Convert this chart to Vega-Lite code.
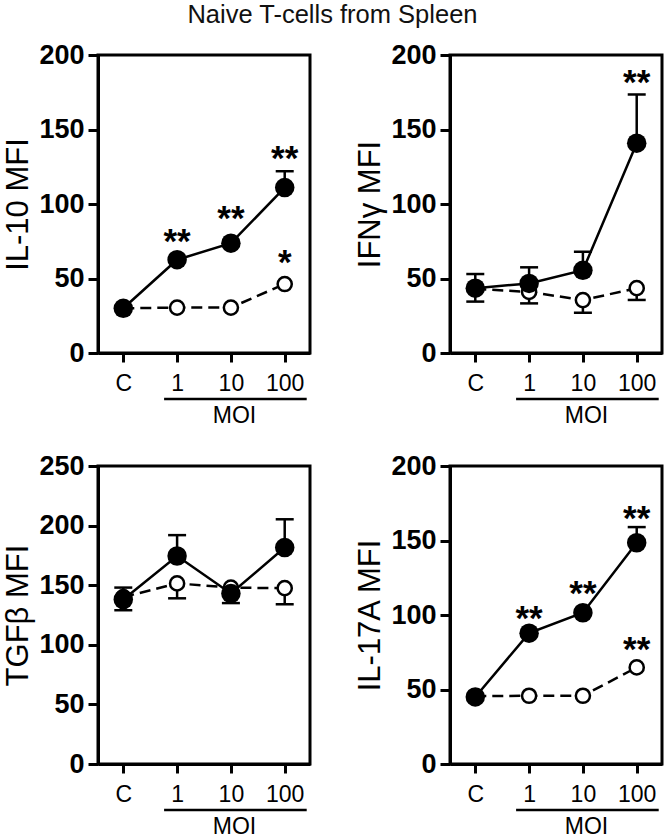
{
  "$schema": "https://vega.github.io/schema/vega-lite/v6.json",
  "padding": {"left": 1, "top": 3, "right": 0, "bottom": 0},
  "title": {"text": "Naive T-cells from Spleen", "fontSize": 25.5, "fontWeight": "normal", "anchor": "middle", "color": "#111", "offset": 11},
  "config": {
    "font": "Liberation Sans",
    "view": {"stroke": "black", "strokeWidth": 3},
    "axis": {"grid": false, "domainColor": "black", "domainWidth": 3, "tickColor": "black", "tickWidth": 3, "labelColor": "black", "titleColor": "black", "titleFontWeight": "normal"},
    "axisY": {"labelFontSize": 27, "labelFontWeight": "bold", "tickSize": 10, "labelPadding": 4, "titleFontSize": 31, "titlePadding": 4},
    "axisX": {"labelFontSize": 23, "labelFontWeight": "normal", "labelAngle": 0, "tickSize": 9, "labelPadding": 10, "titleFontSize": 23, "titlePadding": 9, "titleX": 136}
  },
  "datasets": {
    "pts": [
      {"panel": "IL10", "moi": "C", "grp": "open", "mean": 30},
      {"panel": "IL10", "moi": "1", "grp": "open", "mean": 30.5},
      {"panel": "IL10", "moi": "10", "grp": "open", "mean": 30.5},
      {"panel": "IL10", "moi": "100", "grp": "open", "mean": 46.3},
      {"panel": "IL10", "moi": "C", "grp": "filled", "mean": 30},
      {"panel": "IL10", "moi": "1", "grp": "filled", "mean": 62.6},
      {"panel": "IL10", "moi": "10", "grp": "filled", "mean": 73.7},
      {"panel": "IL10", "moi": "100", "grp": "filled", "mean": 111},
      {"panel": "IFNg", "moi": "C", "grp": "open", "mean": 43},
      {"panel": "IFNg", "moi": "1", "grp": "open", "mean": 41},
      {"panel": "IFNg", "moi": "10", "grp": "open", "mean": 35.5},
      {"panel": "IFNg", "moi": "100", "grp": "open", "mean": 43.5},
      {"panel": "IFNg", "moi": "C", "grp": "filled", "mean": 43.5},
      {"panel": "IFNg", "moi": "1", "grp": "filled", "mean": 46.7},
      {"panel": "IFNg", "moi": "10", "grp": "filled", "mean": 55.5},
      {"panel": "IFNg", "moi": "100", "grp": "filled", "mean": 140.8},
      {"panel": "TGFb", "moi": "C", "grp": "open", "mean": 140},
      {"panel": "TGFb", "moi": "1", "grp": "open", "mean": 151.5},
      {"panel": "TGFb", "moi": "10", "grp": "open", "mean": 148},
      {"panel": "TGFb", "moi": "100", "grp": "open", "mean": 147.5},
      {"panel": "TGFb", "moi": "C", "grp": "filled", "mean": 138},
      {"panel": "TGFb", "moi": "1", "grp": "filled", "mean": 174.5},
      {"panel": "TGFb", "moi": "10", "grp": "filled", "mean": 143},
      {"panel": "TGFb", "moi": "100", "grp": "filled", "mean": 181.6},
      {"panel": "IL17A", "moi": "C", "grp": "open", "mean": 45.5},
      {"panel": "IL17A", "moi": "1", "grp": "open", "mean": 45.8},
      {"panel": "IL17A", "moi": "10", "grp": "open", "mean": 45.8},
      {"panel": "IL17A", "moi": "100", "grp": "open", "mean": 64.8},
      {"panel": "IL17A", "moi": "C", "grp": "filled", "mean": 45},
      {"panel": "IL17A", "moi": "1", "grp": "filled", "mean": 87.8},
      {"panel": "IL17A", "moi": "10", "grp": "filled", "mean": 101.5},
      {"panel": "IL17A", "moi": "100", "grp": "filled", "mean": 148.5}
    ],
    "errs": [
      {"panel": "IL10", "moi": "100", "grp": "filled", "mean": 111, "bar": 122},
      {"panel": "IFNg", "moi": "C", "grp": "filled", "mean": 43.5, "bar": 53},
      {"panel": "IFNg", "moi": "1", "grp": "filled", "mean": 46.7, "bar": 57.5},
      {"panel": "IFNg", "moi": "10", "grp": "filled", "mean": 55.5, "bar": 68},
      {"panel": "IFNg", "moi": "100", "grp": "filled", "mean": 140.8, "bar": 173.5},
      {"panel": "IFNg", "moi": "C", "grp": "open", "mean": 43, "bar": 34.5},
      {"panel": "IFNg", "moi": "1", "grp": "open", "mean": 41, "bar": 33.3},
      {"panel": "IFNg", "moi": "10", "grp": "open", "mean": 35.5, "bar": 27},
      {"panel": "IFNg", "moi": "100", "grp": "open", "mean": 43.5, "bar": 35.6},
      {"panel": "TGFb", "moi": "C", "grp": "filled", "mean": 138, "bar": 148},
      {"panel": "TGFb", "moi": "1", "grp": "filled", "mean": 174.5, "bar": 192},
      {"panel": "TGFb", "moi": "100", "grp": "filled", "mean": 181.6, "bar": 205.3},
      {"panel": "TGFb", "moi": "C", "grp": "open", "mean": 140, "bar": 129},
      {"panel": "TGFb", "moi": "1", "grp": "open", "mean": 151.5, "bar": 139},
      {"panel": "TGFb", "moi": "10", "grp": "open", "mean": 148, "bar": 135},
      {"panel": "TGFb", "moi": "100", "grp": "open", "mean": 147.5, "bar": 134},
      {"panel": "IL17A", "moi": "100", "grp": "filled", "mean": 148.5, "bar": 159}
    ],
    "stars": [
      {"panel": "IL10", "moi": "1", "label": "**", "pos": 79.3},
      {"panel": "IL10", "moi": "10", "label": "**", "pos": 94.3},
      {"panel": "IL10", "moi": "100", "label": "**", "pos": 135.2},
      {"panel": "IL10", "moi": "100", "label": "*", "pos": 64.8},
      {"panel": "IFNg", "moi": "100", "label": "**", "pos": 186},
      {"panel": "IL17A", "moi": "1", "label": "**", "pos": 102},
      {"panel": "IL17A", "moi": "10", "label": "**", "pos": 119},
      {"panel": "IL17A", "moi": "100", "label": "**", "pos": 169},
      {"panel": "IL17A", "moi": "100", "label": "**", "pos": 81}
    ]
  },
  "columns": 2,
  "bounds": "flush",
  "spacing": {"row": 113, "column": 140},
  "concat": [
    {
      "width": 212, "height": 298,
      "layer": [
        {"data": {"name": "pts"}, "transform": [{"filter": "datum.panel === 'IL10' && datum.grp === 'open'"}],
         "mark": {"type": "line", "color": "black", "strokeWidth": 2.5, "strokeDash": [11, 6]},
         "encoding": {
           "x": {"field": "moi", "type": "ordinal", "title": "MOI", "scale": {"type": "point", "domain": ["C", "1", "10", "100"], "padding": 0.47}},
           "y": {"field": "mean", "type": "quantitative", "title": "IL-10 MFI", "scale": {"domain": [0, 200], "nice": false}, "axis": {"values": [0, 50, 100, 150, 200]}}}},
        {"data": {"name": "pts"}, "transform": [{"filter": "datum.panel === 'IL10' && datum.grp === 'filled'"}],
         "mark": {"type": "line", "color": "black", "strokeWidth": 2.5},
         "encoding": {"x": {"field": "moi", "type": "ordinal"}, "y": {"field": "mean", "type": "quantitative"}}},
        {"data": {"name": "errs"}, "transform": [{"filter": "datum.panel === 'IL10'"}],
         "mark": {"type": "rule", "color": "black", "strokeWidth": 2.5},
         "encoding": {"x": {"field": "moi", "type": "ordinal"}, "y": {"field": "mean", "type": "quantitative"}, "y2": {"field": "bar"}}},
        {"data": {"name": "errs"}, "transform": [{"filter": "datum.panel === 'IL10'"}],
         "mark": {"type": "tick", "color": "black", "size": 18, "thickness": 2.5, "opacity": 1, "orient": "horizontal"},
         "encoding": {"x": {"field": "moi", "type": "ordinal"}, "y": {"field": "bar", "type": "quantitative"}}},
        {"data": {"name": "pts"}, "transform": [{"filter": "datum.panel === 'IL10' && datum.grp === 'open'"}],
         "mark": {"type": "point", "shape": "circle", "filled": true, "fill": "white", "stroke": "black", "strokeWidth": 2.5, "size": 200, "opacity": 1},
         "encoding": {"x": {"field": "moi", "type": "ordinal"}, "y": {"field": "mean", "type": "quantitative"}}},
        {"data": {"name": "pts"}, "transform": [{"filter": "datum.panel === 'IL10' && datum.grp === 'filled'"}],
         "mark": {"type": "circle", "color": "black", "size": 380, "opacity": 1},
         "encoding": {"x": {"field": "moi", "type": "ordinal"}, "y": {"field": "mean", "type": "quantitative"}}},
        {"data": {"name": "stars"}, "transform": [{"filter": "datum.panel === 'IL10'"}],
         "mark": {"type": "text", "color": "black", "fontSize": 35, "fontWeight": "bold", "baseline": "alphabetic", "dy": 18},
         "encoding": {"x": {"field": "moi", "type": "ordinal"}, "y": {"field": "pos", "type": "quantitative"}, "text": {"field": "label"}}},
        {"data": {"values": [{}]},
         "mark": {"type": "rule", "color": "black", "strokeWidth": 2.5, "yOffset": 46, "xOffset": -13, "x2Offset": 22},
         "encoding": {"x": {"datum": "1", "type": "ordinal"}, "x2": {"datum": "100"}, "y": {"datum": 0, "type": "quantitative"}}}
      ]
    },
    {
      "width": 212, "height": 298,
      "layer": [
        {"data": {"name": "pts"}, "transform": [{"filter": "datum.panel === 'IFNg' && datum.grp === 'open'"}],
         "mark": {"type": "line", "color": "black", "strokeWidth": 2.5, "strokeDash": [11, 6]},
         "encoding": {
           "x": {"field": "moi", "type": "ordinal", "title": "MOI", "scale": {"type": "point", "domain": ["C", "1", "10", "100"], "padding": 0.47}},
           "y": {"field": "mean", "type": "quantitative", "title": "IFNγ MFI", "scale": {"domain": [0, 200], "nice": false}, "axis": {"values": [0, 50, 100, 150, 200]}}}},
        {"data": {"name": "pts"}, "transform": [{"filter": "datum.panel === 'IFNg' && datum.grp === 'filled'"}],
         "mark": {"type": "line", "color": "black", "strokeWidth": 2.5},
         "encoding": {"x": {"field": "moi", "type": "ordinal"}, "y": {"field": "mean", "type": "quantitative"}}},
        {"data": {"name": "errs"}, "transform": [{"filter": "datum.panel === 'IFNg'"}],
         "mark": {"type": "rule", "color": "black", "strokeWidth": 2.5},
         "encoding": {"x": {"field": "moi", "type": "ordinal"}, "y": {"field": "mean", "type": "quantitative"}, "y2": {"field": "bar"}}},
        {"data": {"name": "errs"}, "transform": [{"filter": "datum.panel === 'IFNg'"}],
         "mark": {"type": "tick", "color": "black", "size": 18, "thickness": 2.5, "opacity": 1, "orient": "horizontal"},
         "encoding": {"x": {"field": "moi", "type": "ordinal"}, "y": {"field": "bar", "type": "quantitative"}}},
        {"data": {"name": "pts"}, "transform": [{"filter": "datum.panel === 'IFNg' && datum.grp === 'open'"}],
         "mark": {"type": "point", "shape": "circle", "filled": true, "fill": "white", "stroke": "black", "strokeWidth": 2.5, "size": 200, "opacity": 1},
         "encoding": {"x": {"field": "moi", "type": "ordinal"}, "y": {"field": "mean", "type": "quantitative"}}},
        {"data": {"name": "pts"}, "transform": [{"filter": "datum.panel === 'IFNg' && datum.grp === 'filled'"}],
         "mark": {"type": "circle", "color": "black", "size": 380, "opacity": 1},
         "encoding": {"x": {"field": "moi", "type": "ordinal"}, "y": {"field": "mean", "type": "quantitative"}}},
        {"data": {"name": "stars"}, "transform": [{"filter": "datum.panel === 'IFNg'"}],
         "mark": {"type": "text", "color": "black", "fontSize": 35, "fontWeight": "bold", "baseline": "alphabetic", "dy": 18},
         "encoding": {"x": {"field": "moi", "type": "ordinal"}, "y": {"field": "pos", "type": "quantitative"}, "text": {"field": "label"}}},
        {"data": {"values": [{}]},
         "mark": {"type": "rule", "color": "black", "strokeWidth": 2.5, "yOffset": 46, "xOffset": -13, "x2Offset": 22},
         "encoding": {"x": {"datum": "1", "type": "ordinal"}, "x2": {"datum": "100"}, "y": {"datum": 0, "type": "quantitative"}}}
      ]
    },
    {
      "width": 212, "height": 298,
      "layer": [
        {"data": {"name": "pts"}, "transform": [{"filter": "datum.panel === 'TGFb' && datum.grp === 'open'"}],
         "mark": {"type": "line", "color": "black", "strokeWidth": 2.5, "strokeDash": [11, 6]},
         "encoding": {
           "x": {"field": "moi", "type": "ordinal", "title": "MOI", "scale": {"type": "point", "domain": ["C", "1", "10", "100"], "padding": 0.47}},
           "y": {"field": "mean", "type": "quantitative", "title": "TGFβ MFI", "scale": {"domain": [0, 250], "nice": false}, "axis": {"values": [0, 50, 100, 150, 200, 250]}}}},
        {"data": {"name": "pts"}, "transform": [{"filter": "datum.panel === 'TGFb' && datum.grp === 'filled'"}],
         "mark": {"type": "line", "color": "black", "strokeWidth": 2.5},
         "encoding": {"x": {"field": "moi", "type": "ordinal"}, "y": {"field": "mean", "type": "quantitative"}}},
        {"data": {"name": "errs"}, "transform": [{"filter": "datum.panel === 'TGFb'"}],
         "mark": {"type": "rule", "color": "black", "strokeWidth": 2.5},
         "encoding": {"x": {"field": "moi", "type": "ordinal"}, "y": {"field": "mean", "type": "quantitative"}, "y2": {"field": "bar"}}},
        {"data": {"name": "errs"}, "transform": [{"filter": "datum.panel === 'TGFb'"}],
         "mark": {"type": "tick", "color": "black", "size": 18, "thickness": 2.5, "opacity": 1, "orient": "horizontal"},
         "encoding": {"x": {"field": "moi", "type": "ordinal"}, "y": {"field": "bar", "type": "quantitative"}}},
        {"data": {"name": "pts"}, "transform": [{"filter": "datum.panel === 'TGFb' && datum.grp === 'open'"}],
         "mark": {"type": "point", "shape": "circle", "filled": true, "fill": "white", "stroke": "black", "strokeWidth": 2.5, "size": 200, "opacity": 1},
         "encoding": {"x": {"field": "moi", "type": "ordinal"}, "y": {"field": "mean", "type": "quantitative"}}},
        {"data": {"name": "pts"}, "transform": [{"filter": "datum.panel === 'TGFb' && datum.grp === 'filled'"}],
         "mark": {"type": "circle", "color": "black", "size": 380, "opacity": 1},
         "encoding": {"x": {"field": "moi", "type": "ordinal"}, "y": {"field": "mean", "type": "quantitative"}}},
        {"data": {"values": [{}]},
         "mark": {"type": "rule", "color": "black", "strokeWidth": 2.5, "yOffset": 46, "xOffset": -13, "x2Offset": 22},
         "encoding": {"x": {"datum": "1", "type": "ordinal"}, "x2": {"datum": "100"}, "y": {"datum": 0, "type": "quantitative"}}}
      ]
    },
    {
      "width": 212, "height": 298,
      "layer": [
        {"data": {"name": "pts"}, "transform": [{"filter": "datum.panel === 'IL17A' && datum.grp === 'open'"}],
         "mark": {"type": "line", "color": "black", "strokeWidth": 2.5, "strokeDash": [11, 6]},
         "encoding": {
           "x": {"field": "moi", "type": "ordinal", "title": "MOI", "scale": {"type": "point", "domain": ["C", "1", "10", "100"], "padding": 0.47}},
           "y": {"field": "mean", "type": "quantitative", "title": "IL-17A MFI", "scale": {"domain": [0, 200], "nice": false}, "axis": {"values": [0, 50, 100, 150, 200]}}}},
        {"data": {"name": "pts"}, "transform": [{"filter": "datum.panel === 'IL17A' && datum.grp === 'filled'"}],
         "mark": {"type": "line", "color": "black", "strokeWidth": 2.5},
         "encoding": {"x": {"field": "moi", "type": "ordinal"}, "y": {"field": "mean", "type": "quantitative"}}},
        {"data": {"name": "errs"}, "transform": [{"filter": "datum.panel === 'IL17A'"}],
         "mark": {"type": "rule", "color": "black", "strokeWidth": 2.5},
         "encoding": {"x": {"field": "moi", "type": "ordinal"}, "y": {"field": "mean", "type": "quantitative"}, "y2": {"field": "bar"}}},
        {"data": {"name": "errs"}, "transform": [{"filter": "datum.panel === 'IL17A'"}],
         "mark": {"type": "tick", "color": "black", "size": 18, "thickness": 2.5, "opacity": 1, "orient": "horizontal"},
         "encoding": {"x": {"field": "moi", "type": "ordinal"}, "y": {"field": "bar", "type": "quantitative"}}},
        {"data": {"name": "pts"}, "transform": [{"filter": "datum.panel === 'IL17A' && datum.grp === 'open'"}],
         "mark": {"type": "point", "shape": "circle", "filled": true, "fill": "white", "stroke": "black", "strokeWidth": 2.5, "size": 200, "opacity": 1},
         "encoding": {"x": {"field": "moi", "type": "ordinal"}, "y": {"field": "mean", "type": "quantitative"}}},
        {"data": {"name": "pts"}, "transform": [{"filter": "datum.panel === 'IL17A' && datum.grp === 'filled'"}],
         "mark": {"type": "circle", "color": "black", "size": 380, "opacity": 1},
         "encoding": {"x": {"field": "moi", "type": "ordinal"}, "y": {"field": "mean", "type": "quantitative"}}},
        {"data": {"name": "stars"}, "transform": [{"filter": "datum.panel === 'IL17A'"}],
         "mark": {"type": "text", "color": "black", "fontSize": 35, "fontWeight": "bold", "baseline": "alphabetic", "dy": 18},
         "encoding": {"x": {"field": "moi", "type": "ordinal"}, "y": {"field": "pos", "type": "quantitative"}, "text": {"field": "label"}}},
        {"data": {"values": [{}]},
         "mark": {"type": "rule", "color": "black", "strokeWidth": 2.5, "yOffset": 46, "xOffset": -13, "x2Offset": 22},
         "encoding": {"x": {"datum": "1", "type": "ordinal"}, "x2": {"datum": "100"}, "y": {"datum": 0, "type": "quantitative"}}}
      ]
    }
  ]
}
